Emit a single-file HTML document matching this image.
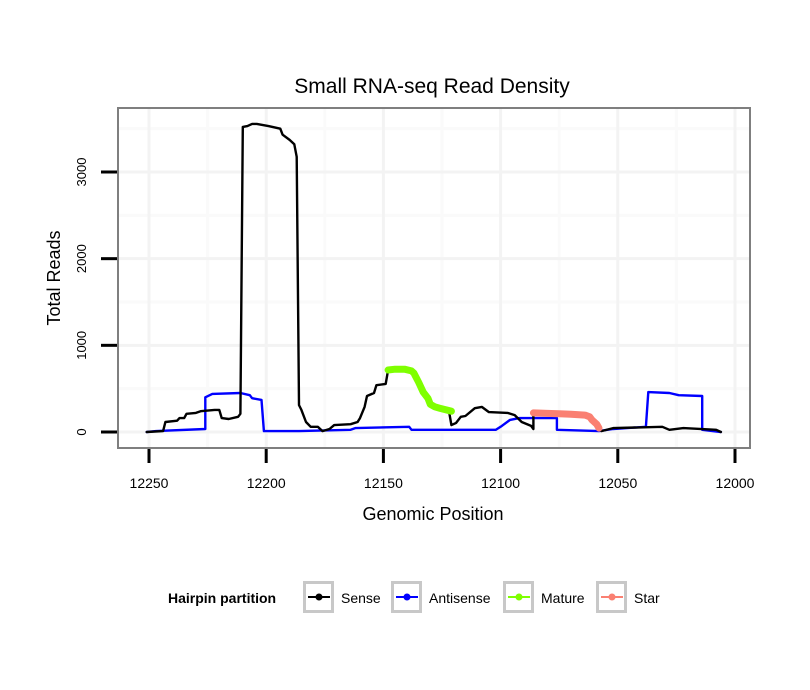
<!DOCTYPE html>
<html><head><meta charset="utf-8"><style>
html,body{margin:0;padding:0;background:#fff;}
svg{display:block;font-family:"Liberation Sans",Arial,sans-serif;}
</style></head><body>
<svg id="chart" width="810" height="690" viewBox="0 0 810 690">
<text x="432" y="93" text-anchor="middle" font-size="21">Small RNA-seq Read Density</text>
<rect x="118" y="108" width="632" height="340" fill="#fff"/>
<g id="grid"></g>
<g id="series"></g>
<rect x="118" y="108" width="632" height="340" fill="none" stroke="#7f7f7f" stroke-width="2"/>
<g id="axes"></g>
<text x="433" y="520" text-anchor="middle" font-size="18">Genomic Position</text>
<text transform="translate(60,278) rotate(-90)" text-anchor="middle" font-size="18">Total Reads</text>
<g>
<text x="168" y="603" font-size="14" font-weight="bold">Hairpin partition</text>
<g id="legend-items"></g>
</g>
</svg>
<script>
const xTicks = [12250, 12200, 12150, 12100, 12050, 12000];
const xMinor = [12225, 12175, 12125, 12075, 12025];
const yTicks = [0, 1000, 2000, 3000];
const yMinor = [500, 1500, 2500, 3500];
const sensePos = [12251,12244,12243,12238,12237,12235,12234,12230,12228,12222,12220,12219,12216,12212,12211,12210,12208,12206,12204,12199,12194,12193,12190,12188,12187,12186,12185,12183,12181,12178,12176,12173,12171,12164,12161,12160,12158,12157,12154,12153,12149,12148,12145,12141,12138,12137,12135,12133,12131,12130,12128,12126,12122,12121,12119,12117,12115,12111,12108,12105,12097,12094,12091,12087,12086,12086,12080,12075,12070,12064,12062,12061,12059,12058,12057,12052,12031,12028,12022,12008,12006];
const senseVal = [0,10,115,130,160,160,210,220,240,255,255,160,150,175,210,3520,3530,3555,3555,3530,3500,3430,3370,3320,3175,310,255,115,60,60,10,35,80,90,115,160,290,415,450,540,555,715,725,725,705,680,575,460,390,320,290,275,240,80,105,175,185,275,290,230,220,195,115,70,35,220,215,210,205,195,175,140,90,45,10,45,60,25,45,25,0];
const antiPos = [12251,12247,12226,12226,12223,12211,12207,12206,12202,12201,12186,12164,12162,12139,12138,12102,12100,12096,12092,12086,12076,12076,12058,12052,12038,12037,12028,12024,12014,12014,12006];
const antiVal = [0,10,35,400,440,450,425,390,370,10,10,25,45,60,25,25,60,140,160,160,160,25,10,35,60,460,450,425,415,25,0];
const maturePos = [12148,12145,12141,12138,12137,12135,12133,12131,12130,12128,12126,12121];
const matureVal = [715,725,725,705,680,575,460,390,320,290,275,240];
const starPos = [12086,12080,12075,12070,12064,12062,12061,12059,12058];
const starVal = [220,215,210,205,195,175,140,90,45];
const legendLabels = ["Sense","Antisense","Mature","Star"];
const legendColors = ["#000000","#0000ff","#7fff00","#fa8072"];

const X = p => 149 + (12250 - p) * 2.344;
const Y = v => 432 - v * 0.08667;
const NS = "http://www.w3.org/2000/svg";
function mk(tag, attrs, parent){const e=document.createElementNS(NS,tag);for(const k in attrs)e.setAttribute(k,attrs[k]);parent.appendChild(e);return e;}
const grid=document.getElementById('grid'), axes=document.getElementById('axes'), series=document.getElementById('series');
xMinor.forEach(t=>{const l=mk('line',{x1:X(t),x2:X(t),y1:109,y2:447,stroke:'#fafafa','stroke-width':3},grid);

});
yMinor.forEach(t=>{const l=mk('line',{x1:119,x2:749,y1:Y(t),y2:Y(t),stroke:'#fafafa','stroke-width':3},grid);

});
xTicks.forEach(t=>{const l=mk('line',{x1:X(t),x2:X(t),y1:109,y2:447,stroke:'#f3f3f3','stroke-width':3},grid);


const tk=mk('line',{x1:X(t),x2:X(t),y1:449,y2:463,stroke:'#000','stroke-width':3},axes);


const tx=mk('text',{x:X(t),y:488,'text-anchor':'middle','font-size':14},axes);tx.textContent=t;

});
yTicks.forEach(t=>{const l=mk('line',{x1:119,x2:749,y1:Y(t),y2:Y(t),stroke:'#f3f3f3','stroke-width':3},grid);


const tk=mk('line',{x1:101,x2:117,y1:Y(t),y2:Y(t),stroke:'#000','stroke-width':3},axes);


const tx=mk('text',{transform:`translate(86,${Y(t)}) rotate(-90)`,'text-anchor':'middle','font-size':13},axes);tx.textContent=t;

});
function line(pos,val,color,w,name){const d=pos.map((p,i)=>(i?'L':'M')+X(p).toFixed(1)+','+Y(val[i]).toFixed(1)).join('');
const e=mk('path',{d:d,fill:'none',stroke:color,'stroke-width':w,'stroke-linejoin':'round','stroke-linecap':'round'},series);

}
line(antiPos,antiVal,'#0000ff',2.4,'antisense-line');
line(sensePos,senseVal,'#000000',2.4,'sense-line');
line(maturePos,matureVal,'#7fff00',7,'mature-line');
line(starPos,starVal,'#fa8072',7,'star-line');
const lg=document.getElementById('legend-items');
const bx=[303,391,503,596];
legendLabels.forEach((lab,i)=>{
const r=mk('rect',{x:bx[i]+1.5,y:582.5,width:28,height:29,fill:'#fff',stroke:'#c8c8c8','stroke-width':3},lg);


mk('line',{x1:bx[i]+5,x2:bx[i]+27,y1:597,y2:597,stroke:legendColors[i],'stroke-width':2},lg);
mk('circle',{cx:bx[i]+16,cy:597,r:3.5,fill:legendColors[i]},lg);
const t=mk('text',{x:bx[i]+38,y:603,'font-size':14},lg);t.textContent=lab;

});
</script>
</body></html>
